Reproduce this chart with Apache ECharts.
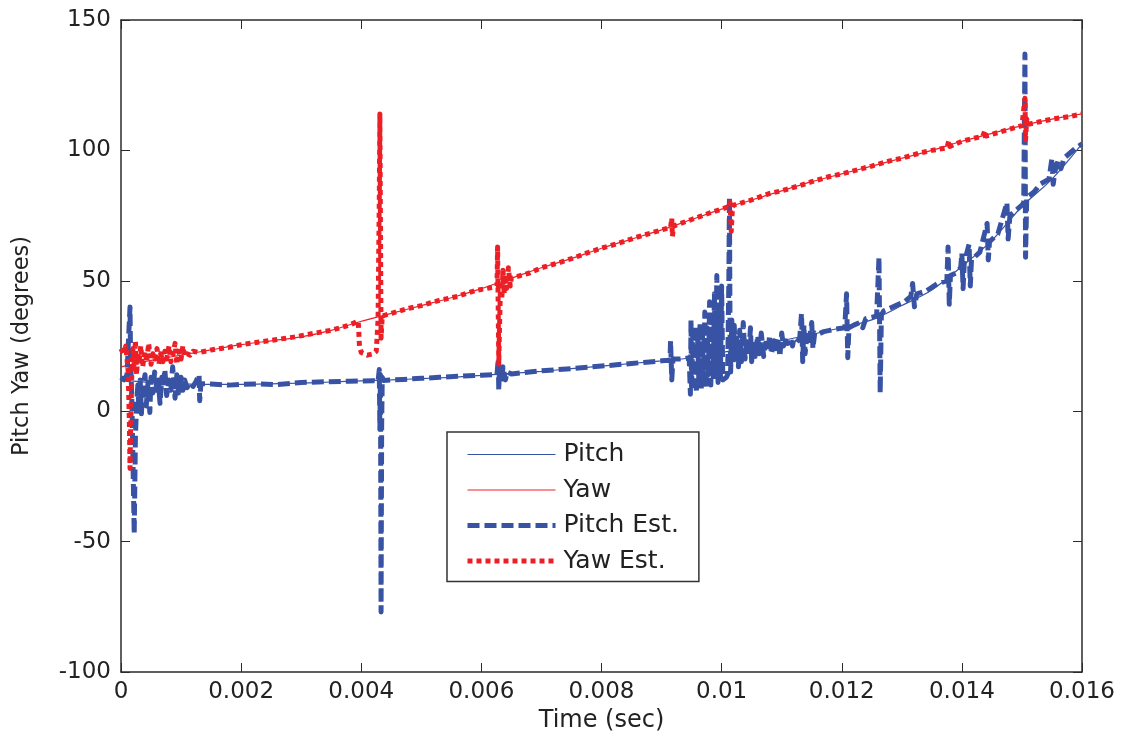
<!DOCTYPE html>
<html>
<head>
<meta charset="utf-8">
<script src="https://cdn.jsdelivr.net/npm/echarts@6/dist/echarts.min.js"></script>
<style>
html,body{margin:0;padding:0;background:#fff;}
#chart{width:1125px;height:742px;}
</style>
</head>
<body>
<div id="chart"></div>
<script>
// ---- Data ----
const seriesNames = ['Pitch', 'Yaw', 'Pitch Est.', 'Yaw Est.'];
const xTicks = [0, 0.002, 0.004, 0.006, 0.008, 0.01, 0.012, 0.014, 0.016];
const yTicks = [-100, -50, 0, 50, 100, 150];

const pitch = [
  [0,12],[0.0005,11],[0.001,10.5],[0.0015,10.3],[0.002,10.3],[0.0025,10.5],[0.003,10.8],
  [0.0035,11.2],[0.004,11.6],[0.0045,12],[0.005,12.5],[0.0055,13],[0.006,13.7],[0.0065,14.5],
  [0.007,15.3],[0.0075,16.3],[0.008,17.3],[0.0085,18.3],[0.009,19.3],[0.0095,20.5],[0.01,22.5],
  [0.0105,24.5],[0.011,27],[0.0115,29.5],[0.012,32],[0.0125,35],[0.013,40.5],[0.0135,46.5],
  [0.014,55.5],[0.0145,65.5],[0.015,78.5],[0.0155,89],[0.016,102.5]
];

const yaw = [
  [0,17],[0.0005,19.5],[0.001,21.5],[0.0015,23.5],[0.002,25.5],[0.0025,27],[0.003,28.5],
  [0.0035,31],[0.004,34.5],[0.0045,37.5],[0.005,40.5],[0.0055,43.5],[0.006,47],[0.0065,51],
  [0.007,55],[0.0075,58.5],[0.008,62.5],[0.0085,66],[0.009,69.5],[0.0095,73.5],[0.01,77.5],
  [0.0105,81],[0.011,84.5],[0.0115,88],[0.012,91],[0.0125,94],[0.013,97],[0.0135,100],
  [0.014,103.5],[0.0145,106.5],[0.015,109.5],[0.0155,112],[0.016,114]
];

const pitchEst = [
  [0,13],[0.00005,12],[0.0001,14],[0.00013,30],[0.00015,40],[0.00016,20],[0.00018,5],[0.0002,-20],
  [0.00022,-47],[0.00024,-10],[0.00026,3],[0.00028,10],[0.0003,0],[0.00032,12],[0.00034,-1],
  [0.00036,9],[0.0004,14],[0.00042,2],[0.00045,11],[0.00048,-0.5],[0.0005,13],[0.00053,7],
  [0.00056,15],[0.0006,8],[0.00062,12],[0.00065,3],[0.00068,13],[0.0007,9],[0.00073,16],
  [0.00076,6],[0.0008,12],[0.00083,8],[0.00086,17],[0.0009,5],[0.00093,14],[0.00096,7],
  [0.001,13],[0.00103,8],[0.00106,12],[0.0011,9],[0.00115,11],[0.0012,9.5],[0.00125,11.5],
  [0.0013,14],[0.00131,4],[0.00133,10.5],[0.0014,10.5],[0.0015,10.4],[0.0018,10],[0.002,10.3],
  [0.0023,10.5],[0.0026,10.2],[0.003,11],[0.0034,11.3],[0.0038,11.5],[0.0042,11.7],[0.00428,11.5],
  [0.0043,16],[0.00431,-7],[0.00432,14],[0.00433,-77],[0.00434,-5],[0.00435,13],[0.00437,11.8],
  [0.0045,12],[0.0047,12.2],[0.005,12.6],[0.0053,13],[0.0056,13.4],[0.006,13.8],[0.00626,14],
  [0.00628,20],[0.00629,8],[0.0063,16],[0.00633,11],[0.00636,17],[0.0064,12],[0.00643,15],
  [0.0065,14.3],[0.007,15.5],[0.0075,16.3],[0.008,17.3],[0.0085,18.3],[0.009,19.3],[0.00914,19.5],
  [0.00915,27],[0.00917,12],[0.00919,20],[0.0093,20],[0.0094,20.2],[0.00946,20.5],[0.00948,6.5],
  [0.00949,35],[0.0095,8],[0.00952,30],[0.00954,10],[0.00956,33],[0.00958,7],[0.0096,28],
  [0.00962,12],[0.00964,34],[0.00966,8],[0.00968,30],[0.0097,11],[0.00972,38],[0.00974,9],
  [0.00976,32],[0.00978,14],[0.0098,42],[0.00982,10],[0.00984,36],[0.00986,12],[0.00988,45],
  [0.0099,15],[0.00992,52],[0.00994,11],[0.00996,40],[0.00998,13],[0.01,48],[0.01002,12],
  [0.01005,12.5],[0.01008,13],[0.0101,14],[0.01012,50],[0.01013,82],[0.01014,30],[0.01015,15],
  [0.01017,35],[0.01019,18],[0.01021,33],[0.01023,20],[0.01025,28],[0.01028,17],[0.0103,31],
  [0.01033,19],[0.01036,34],[0.01039,20],[0.01042,28],[0.01045,21],[0.01048,32],[0.0105,19],
  [0.01053,27],[0.01056,21],[0.0106,29],[0.01063,22],[0.01066,30],[0.0107,21],[0.01073,26],
  [0.01077,23],[0.0108,29],[0.01083,22],[0.01087,27],[0.0109,24],[0.01094,28],[0.01097,21],
  [0.011,30],[0.01103,25],[0.01107,27],[0.0111,26],[0.01115,28],[0.01118,25],[0.0112,27.5],
  [0.01125,26.5],[0.0113,28],[0.01133,37.5],[0.01135,19],[0.01137,33],[0.01139,22],[0.01142,29],
  [0.01145,26],[0.0115,34],[0.01152,24],[0.01155,30],[0.0116,29.5],[0.0117,30.5],[0.0118,31],
  [0.0119,31.5],[0.01205,32],[0.01208,45],[0.0121,20.5],[0.01212,32],[0.0122,33],[0.0123,34],
  [0.01235,32],[0.0124,35.5],[0.0125,36],[0.01258,36.5],[0.01262,59],[0.01264,7],[0.01266,37],
  [0.0127,38.5],[0.0128,39.5],[0.0129,40.5],[0.01305,42],[0.01315,44],[0.01318,49],[0.01321,40],
  [0.01325,45],[0.0134,46],[0.0135,47.5],[0.0136,49],[0.01375,50],[0.01377,63],[0.01379,41],
  [0.01381,52],[0.0139,53],[0.01398,55],[0.014,60.5],[0.01402,47],[0.01404,57],[0.01412,64],
  [0.01414,48],[0.01416,58],[0.0143,61],[0.01442,72],[0.01444,58],[0.01446,65],[0.0146,68],
  [0.01475,80],[0.01477,66],[0.0148,75],[0.0149,77],[0.015,79],[0.01503,80],[0.01505,137],
  [0.01506,59],[0.01508,82],[0.0152,84],[0.0153,87],[0.01545,89],[0.0155,97],[0.01552,87],
  [0.01555,92],[0.0156,96],[0.01565,93],[0.0157,97],[0.0158,99],[0.0159,101],[0.016,102.5]
];

const yawEst = [
  [0,24],[0.00004,22],[0.00008,25],[0.0001,20],[0.00012,15],[0.00014,-5],[0.00015,-22],
  [0.00016,-8],[0.00018,15],[0.0002,24],[0.00022,18],[0.00024,27],[0.00026,14],[0.00028,22],
  [0.0003,19],[0.00033,25],[0.00036,17],[0.0004,23],[0.00043,19],[0.00046,26],[0.0005,18],
  [0.00053,22],[0.00056,20],[0.0006,24],[0.00063,18],[0.00066,22],[0.0007,19],[0.00073,23],
  [0.00076,20],[0.0008,25],[0.00083,19],[0.00086,21],[0.0009,26],[0.00093,18],[0.00096,23],
  [0.001,20],[0.00103,25],[0.00106,21],[0.0011,22],[0.00115,21.5],[0.0012,23],[0.0013,22.5],
  [0.0014,23],[0.0015,23.5],[0.0018,24.5],[0.002,25.5],[0.0023,26.5],[0.0026,27.5],[0.0029,28.5],
  [0.0032,29.8],[0.0035,31],[0.0038,33],[0.00395,34.5],[0.00396,30],[0.00397,25],[0.004,22.5],
  [0.0041,21.5],[0.0042,22],[0.00425,23],[0.00428,35],[0.0043,80],[0.00431,114],[0.00432,114],
  [0.00433,28],[0.00435,36.5],[0.0045,37.5],[0.0048,39.5],[0.005,40.5],[0.0053,42.5],[0.0056,44],
  [0.0059,46.3],[0.0062,47.5],[0.00626,48],[0.00627,63],[0.00628,40],[0.00629,18],[0.0063,30],
  [0.00632,50],[0.00634,43],[0.00636,54],[0.00638,45],[0.0064,52],[0.00642,47],[0.00645,55],
  [0.00648,48],[0.0065,51],[0.0068,53],[0.007,55],[0.0073,57],[0.0075,58.5],[0.0078,61],
  [0.008,62.5],[0.0083,64.5],[0.0086,66.8],[0.009,69.5],[0.00915,70.5],[0.00917,74],[0.00918,67],
  [0.0092,71],[0.0095,73.5],[0.0098,76],[0.01,77.5],[0.01012,78.5],[0.01014,80],[0.01016,69],
  [0.01018,78],[0.0102,79],[0.0105,81],[0.0108,83.5],[0.011,84.5],[0.0113,86.5],[0.0115,88],
  [0.0118,90],[0.012,91],[0.0123,92.8],[0.0125,94],[0.0128,96],[0.013,97],[0.0133,99],
  [0.0135,100],[0.01375,101],[0.01378,103.5],[0.0138,101.5],[0.014,103.5],[0.01435,105.5],
  [0.01438,107.5],[0.0144,105.5],[0.0147,107.5],[0.015,109.5],[0.01503,109],[0.01505,120],
  [0.01506,104],[0.01508,112],[0.0151,110],[0.0153,111],[0.0155,112],[0.0158,113],[0.016,114]
];

// ---- Styling ----
const BLUE = '#3953A4';
const RED = '#ED1F26';
const FONT = 'DejaVu Sans';
const AX = '#2b2b2b';

const chart = echarts.init(document.getElementById('chart'), null, {renderer: 'canvas'});

function fmtX(v) { return String(Number(v.toFixed(6))); }

const baseAxis = {
  axisLine: {show: true, onZero: false, lineStyle: {color: AX, width: 1.5}},
  axisTick: {show: true, inside: true, length: 9, lineStyle: {color: AX, width: 1}},
  splitLine: {show: false}
};

const option = {
  animation: false,
  backgroundColor: '#fff',
  grid: {left: 121, top: 20, width: 961, height: 652, containLabel: false},
  xAxis: [
    Object.assign({}, baseAxis, {
      type: 'value', min: xTicks[0], max: xTicks[xTicks.length - 1], interval: 0.002,
      position: 'bottom',
      axisLabel: {fontFamily: FONT, fontSize: 23, color: '#222', margin: 9, formatter: fmtX},
      name: 'Time (sec)', nameLocation: 'middle', nameGap: 37,
      nameTextStyle: {fontFamily: FONT, fontSize: 24, color: '#222'}
    }),
    Object.assign({}, baseAxis, {
      type: 'value', min: xTicks[0], max: xTicks[xTicks.length - 1], interval: 0.002,
      position: 'top', axisLabel: {show: false}
    })
  ],
  yAxis: [
    Object.assign({}, baseAxis, {
      type: 'value', min: yTicks[0], max: yTicks[yTicks.length - 1], interval: 50,
      position: 'left',
      axisLabel: {fontFamily: FONT, fontSize: 23, color: '#222', margin: 10},
      name: 'Pitch Yaw (degrees)', nameLocation: 'middle', nameGap: 87, nameRotate: 90,
      nameTextStyle: {fontFamily: FONT, fontSize: 22.5, color: '#222'}
    }),
    Object.assign({}, baseAxis, {
      type: 'value', min: yTicks[0], max: yTicks[yTicks.length - 1], interval: 50,
      position: 'right', axisLabel: {show: false}
    })
  ],
  legend: {
    show: true,
    orient: 'vertical',
    left: 447, top: 432,
    padding: [10, 20, 8, 18],
    backgroundColor: '#fff',
    borderColor: '#333', borderWidth: 1.5, borderRadius: 0,
    itemWidth: 88, itemHeight: 14, itemGap: 10.5,
    lineStyle: {width: 'inherit'},
    itemStyle: {color: 'rgba(0,0,0,0)', borderWidth: 0, opacity: 0},
    textStyle: {fontFamily: FONT, fontSize: 25, lineHeight: 25, color: '#222', padding: [0, 0, 0, 3]},
    data: seriesNames,
    selectedMode: false
  },
  series: [
    {name: seriesNames[0], type: 'line', data: pitch, smooth: 0.3, symbol: 'none',
     lineStyle: {color: BLUE, width: 1.2}, itemStyle: {color: BLUE}, z: 2},
    {name: seriesNames[1], type: 'line', data: yaw, smooth: 0.3, symbol: 'none',
     lineStyle: {color: RED, width: 1.2}, itemStyle: {color: RED}, z: 2},
    {name: seriesNames[2], type: 'line', data: pitchEst, symbol: 'none',
     lineStyle: {color: BLUE, width: 5, type: [12, 5], cap: 'butt', join: 'round'}, itemStyle: {color: BLUE}, z: 3},
    {name: seriesNames[3], type: 'line', data: yawEst, symbol: 'none',
     lineStyle: {color: RED, width: 5, type: [5, 4], cap: 'butt', join: 'round'}, itemStyle: {color: RED}, z: 3}
  ]
};

chart.setOption(option);
</script>
</body>
</html>
